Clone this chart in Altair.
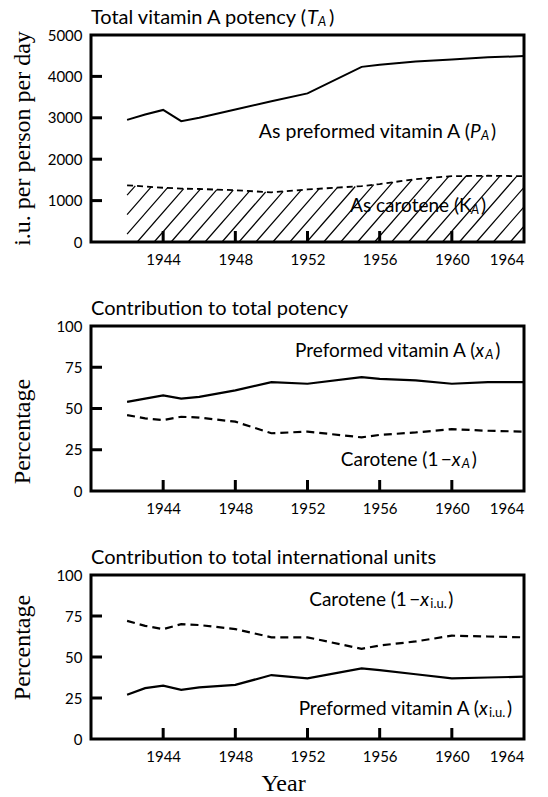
import altair as alt
import numpy as np
import pandas as pd

# ---------------- data ----------------
years = [1942, 1943, 1944, 1945, 1946, 1948, 1950, 1952, 1955, 1956, 1958, 1960, 1962, 1964]

# i.u. per person per day
total_potency = [2950, 3080, 3190, 2920, 3000, 3200, 3400, 3590, 4230, 4280, 4360, 4410, 4460, 4490]
carotene_potency = [1370, 1340, 1310, 1290, 1280, 1250, 1200, 1270, 1350, 1400, 1520, 1590, 1600, 1590]

# contribution to total potency (%)
pot_preformed_pct = [54, 56, 58, 56, 57, 61, 66, 65, 69, 68, 67, 65, 66, 66]
pot_carotene_pct = [46, 44, 43, 45, 44.5, 42, 35, 36, 32.5, 34, 35.5, 37.5, 36.5, 36]

# contribution to total international units (%)
iu_carotene_pct = [72, 69, 67, 70, 69.5, 67, 62, 62, 55, 57, 59.5, 63, 62.5, 62]
iu_preformed_pct = [27, 31, 32.5, 30, 31.5, 33, 39, 37, 43, 42, 39.5, 37, 37.5, 38]

x_ticks = [1944, 1948, 1952, 1956, 1960, 1964]
x_inner_ticks = [1944, 1948, 1952, 1956, 1960]
top_y_ticks = [0, 1000, 2000, 3000, 4000, 5000]
top_inner_ticks = [1000, 2000, 3000, 4000]
pct_ticks = [0, 25, 50, 75, 100]
pct_inner_ticks = [25, 50, 75]

# ---------------- style ----------------
W = 433
H_TOP, H_MID, H_BOT = 207, 165, 164
SANS = "Lato"
SERIF = "Liberation Serif"
FS = 19      # in-plot labels
HFS = 20     # panel headings
SUB = 13     # subscripts
TFS = 15     # tick labels
TICK_PX = 11
FRAME_W = 3
TICK_W = 3
XDOM = [1940, 1964]


def x_enc(field, show_title=False):
    kw = dict(values=x_ticks, format="d", ticks=False, domain=False, grid=False,
              labelFont=SANS, labelFontSize=TFS, labelColor="black", labelPadding=10)
    if show_title:
        kw.update(title="Year", titleFont=SERIF, titleFontSize=24, titleFontWeight="normal",
                  titleColor="black", titleX=192, titleY=44, titleBaseline="middle",
                  titleAlign="center")
        return alt.X(f"{field}:Q", scale=alt.Scale(domain=XDOM, nice=False, zero=False),
                     axis=alt.Axis(**kw))
    return alt.X(f"{field}:Q", scale=alt.Scale(domain=XDOM, nice=False, zero=False),
                 axis=alt.Axis(**kw), title=None)


def y_enc(field, domain, values, title, title_y):
    kw = dict(values=values, format="d", ticks=False, domain=False, grid=False,
              labelFont=SANS, labelFontSize=TFS, labelColor="black", labelPadding=9,
              title=title, titleFont=SERIF, titleFontSize=24, titleFontWeight="normal",
              titleColor="black", titleX=-69, titleY=title_y, titleBaseline="middle",
              titleAlign="center", titleAngle=270)
    return alt.Y(f"{field}:Q", scale=alt.Scale(domain=domain, nice=False, zero=True),
                 axis=alt.Axis(**kw))


def panel(H, ydom, yvals, ytitle, title_y, inner_y, show_xtitle):
    X = lambda f: x_enc(f, show_xtitle)
    Y = lambda f: y_enc(f, ydom, yvals, ytitle, title_y)
    y0, y1 = ydom
    # frame around the plot area (scale-domain corners)
    rect_df = pd.DataFrame({"ra": [XDOM[0]], "rb": [XDOM[1]], "rc": [y0], "rd": [y1]})
    frame = alt.Chart(rect_df).mark_rect(filled=False, stroke="black", strokeWidth=FRAME_W).encode(
        x=X("ra"), x2="rb", y=Y("rc"), y2="rd")
    # inward tick marks
    ylen = (y1 - y0) * TICK_PX / H
    xlen = (XDOM[1] - XDOM[0]) * TICK_PX / W
    xt_df = pd.DataFrame({"ta": x_inner_ticks, "tb": [y0] * len(x_inner_ticks),
                          "tc": [y0 + ylen] * len(x_inner_ticks)})
    xt = alt.Chart(xt_df).mark_rule(color="black", strokeWidth=TICK_W).encode(
        x=X("ta"), y=Y("tb"), y2="tc")
    yt_df = pd.DataFrame({"ua": inner_y, "ub": [XDOM[0]] * len(inner_y),
                          "uc": [XDOM[0] + xlen] * len(inner_y)})
    yt = alt.Chart(yt_df).mark_rule(color="black", strokeWidth=TICK_W).encode(
        y=Y("ua"), x=X("ub"), x2="uc")
    return X, Y, [frame, xt, yt]


def series_line(X, Y, values, dash=None, width=2.0):
    df = pd.DataFrame({"year": years, "value": values})
    kw = dict(color="black", strokeWidth=width)
    if dash:
        kw["strokeDash"] = dash
    return alt.Chart(df).mark_line(**kw).encode(x=X("year"), y=Y("value"))


def label(X, Y, ax, ay, main, pieces, size=FS):
    """main text ends at the anchor; pieces = (text, dx, dy, size, italic)"""
    df = pd.DataFrame({"lx": [ax], "ly": [ay]})
    layers = [alt.Chart(df).mark_text(text=main, align="right", baseline="middle",
                                      font=SANS, fontSize=size, color="black").encode(
        x=X("lx"), y=Y("ly"))]
    for txt, dx, dy, psize, ital in pieces:
        kw = dict(text=txt, align="left", baseline="middle", font=SANS, fontSize=psize,
                  color="black", dx=dx, dy=dy)
        if ital:
            kw["fontStyle"] = "italic"
        layers.append(alt.Chart(df).mark_text(**kw).encode(x=X("lx"), y=Y("ly")))
    return layers


def title_text(px, py, main, pieces, align="right"):
    df = pd.DataFrame({"t": [0]})
    layers = [alt.Chart(df).mark_text(text=main, align=align, baseline="middle",
                                      font=SANS, fontSize=HFS, color="black").encode(
        x=alt.value(px), y=alt.value(py))]
    for txt, dx, dy, size, ital in pieces:
        kw = dict(text=txt, align="left", baseline="middle", font=SANS, fontSize=size,
                  color="black")
        if ital:
            kw["fontStyle"] = "italic"
        layers.append(alt.Chart(df).mark_text(**kw).encode(
            x=alt.value(px + dx), y=alt.value(py + dy)))
    return layers


# ---------------- top panel ----------------
X1, Y1, ticks1 = panel(H_TOP, [0, 5000], top_y_ticks, "i.u. per person per day", 103,
                       top_inner_ticks, False)

# hatching below the carotene curve (derived from the carotene data)
slope = 500.0     # i.u. per year along a hatch line
spacing = 0.94    # years between hatch lines
hx = np.linspace(years[0], years[-1], 4401)
hk = np.interp(hx, years, carotene_potency)
segs = []
c = years[0] - max(carotene_potency) / slope
while c < years[-1]:
    xs0 = max(years[0], c)
    ys0 = slope * (xs0 - c)
    if ys0 < np.interp(xs0, years, carotene_potency):
        ly = slope * (hx - c)
        mask = (hx >= xs0) & (ly >= hk)
        if mask.any():
            i = int(np.argmax(mask))
            xs1, ys1 = hx[i], hk[i]
        else:
            xs1, ys1 = years[-1], slope * (years[-1] - c)
        segs.append({"ha": float(xs0), "hb": float(ys0), "hc": float(xs1), "hd": float(ys1)})
    c += spacing
hatch = alt.Chart(pd.DataFrame(segs)).mark_rule(color="black", strokeWidth=1.2).encode(
    x=X1("ha"), y=Y1("hb"), x2="hc", y2="hd")

top_layers = [hatch,
              series_line(X1, Y1, carotene_potency, dash=[6, 4], width=1.8),
              series_line(X1, Y1, total_potency, width=2.0)] + ticks1
top_layers += label(X1, Y1, 1961.0, 2650, "As preformed vitamin A (",
                    [("P", 0, 0, FS, True), ("A", 11, 4, SUB, True), (")", 21, 0, FS, False)],
                    size=19.5)
top_layers += label(X1, Y1, 1960.4, 860, "As carotene (",
                    [("K", 0, 0, FS, False), ("A", 12, 4, SUB, True), (")", 22, 0, FS, False)])
top_layers += title_text(215, -17, "Total vitamin A potency (",
                         [("T", 1, 0, HFS, True), ("A", 12, 4, SUB, True), (")", 23, 0, HFS, False)])
top = alt.layer(*top_layers).properties(width=W, height=H_TOP)

# ---------------- middle panel ----------------
X2, Y2, ticks2 = panel(H_MID, [0, 100], pct_ticks, "Percentage", 105, pct_inner_ticks, False)
mid_layers = [series_line(X2, Y2, pot_carotene_pct, dash=[8, 5], width=2.2),
              series_line(X2, Y2, pot_preformed_pct, width=2.2)] + ticks2
mid_layers += label(X2, Y2, 1961.3, 84.7, "Preformed vitamin A (",
                    [("x", 0, 0, FS, True), ("A", 10, 4, SUB, True), (")", 20, 0, FS, False)])
mid_layers += label(X2, Y2, 1960.0, 18.6, "Carotene (1\u2009\u2212\u2009",
                    [("x", 0, 0, FS, True), ("A", 10, 4, SUB, True), (")", 20, 0, FS, False)])
mid_layers += title_text(0, -17, "Contribution to total potency", [], align="left")
mid = alt.layer(*mid_layers).properties(width=W, height=H_MID)

# ---------------- bottom panel ----------------
X3, Y3, ticks3 = panel(H_BOT, [0, 100], pct_ticks, "Percentage", 72, pct_inner_ticks, True)
bot_layers = [series_line(X3, Y3, iu_carotene_pct, dash=[8, 5], width=2.2),
              series_line(X3, Y3, iu_preformed_pct, width=2.2)] + ticks3
bot_layers += label(X3, Y3, 1958.25, 84.8, "Carotene (1\u2009\u2212\u2009",
                    [("x", 0, 0, FS, True), ("i.u.", 10, 4, SUB, False), (")", 28, 0, FS, False)])
bot_layers += label(X3, Y3, 1961.5, 18.1, "Preformed vitamin A (",
                    [("x", 0, 0, FS, True), ("i.u.", 10, 4, SUB, False), (")", 28, 0, FS, False)])
bot_layers += title_text(0, -17, "Contribution to total international units", [], align="left")
bot = alt.layer(*bot_layers).properties(width=W, height=H_BOT)

chart = alt.vconcat(top, mid, bot, spacing=32).properties(
    padding={"left": 2, "top": 0, "right": 5, "bottom": 5}
).configure(font=SANS, background="white").configure_view(strokeWidth=0)

chart.save("out.html", embed_options={"renderer": "svg", "actions": False})
